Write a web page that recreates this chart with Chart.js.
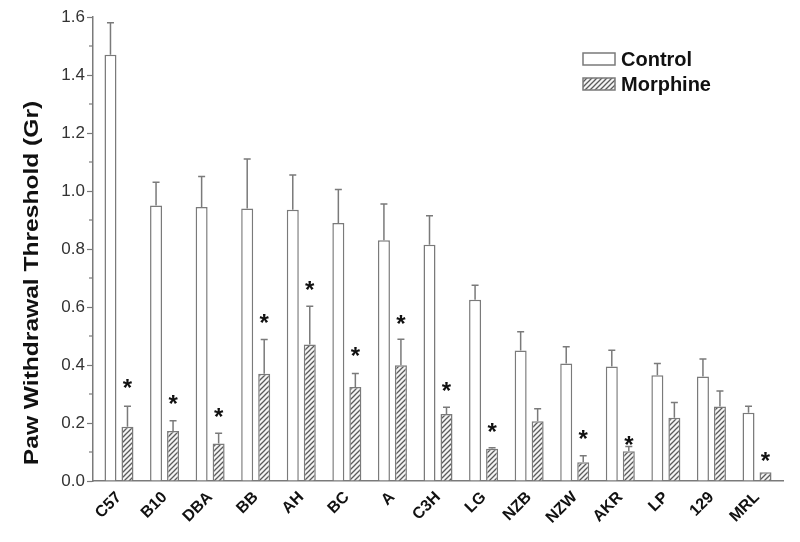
<!DOCTYPE html>
<html>
<head>
<meta charset="utf-8">
<script src="https://cdn.jsdelivr.net/npm/chart.js@4.4.0/dist/chart.umd.min.js"></script>
<style>
  html, body { margin: 0; padding: 0; background: #fff; }
  #wrap { width: 800px; height: 542px; }
</style>
</head>
<body>
<div id="wrap"><canvas id="myChart" width="800" height="542"></canvas></div>
<script>
const categories = ['C57', 'B10', 'DBA', 'BB', 'AH', 'BC', 'A', 'C3H', 'LG', 'NZB', 'NZW', 'AKR', 'LP', '129', 'MRL'];
const control = [1.47, 0.95, 0.945, 0.94, 0.935, 0.89, 0.83, 0.815, 0.625, 0.45, 0.405, 0.395, 0.365, 0.36, 0.235];
const controlErr = [0.11, 0.08, 0.105, 0.17, 0.12, 0.115, 0.125, 0.10, 0.05, 0.065, 0.058, 0.056, 0.04, 0.061, 0.023];
const morphine = [0.187, 0.172, 0.129, 0.37, 0.471, 0.324, 0.399, 0.231, 0.111, 0.206, 0.065, 0.103, 0.218, 0.257, 0.03];
const morphineErr = [0.071, 0.036, 0.036, 0.118, 0.132, 0.047, 0.09, 0.023, 0.004, 0.043, 0.022, 0.016, 0.053, 0.053, 0];
// asterisk positions (significance marks), in y units
const starLevel = [0.341, 0.286, 0.243, 0.567, 0.678, 0.451, 0.563, 0.332, 0.188, null, 0.166, 0.145, null, null, 0.09];
const yTicks = [0, 0.2, 0.4, 0.6, 0.8, 1.0, 1.2, 1.4, 1.6];

const lineGray = '#7a7a7a';
const fontFam = '"Liberation Sans", Arial, sans-serif';

// diagonal hatch for morphine bars
function hatch() {
    const c = document.createElement('canvas');
    c.width = 5; c.height = 5;
    const g = c.getContext('2d');
    g.fillStyle = '#f4f4f4';
    g.fillRect(0, 0, 5, 5);
    g.strokeStyle = '#5a5a5a';
    g.lineWidth = 1.3;
    g.beginPath();
    g.moveTo(-1, 6); g.lineTo(6, -1);
    g.moveTo(-1, 1); g.lineTo(1, -1);
    g.moveTo(4, 6); g.lineTo(6, 4);
    g.stroke();
    return g.createPattern(c, 'repeat');
}
const hatchFill = hatch();

const errs = [controlErr, morphineErr];

const extras = {
    id: 'extras',
    afterDatasetsDraw(chart) {
        const ctx = chart.ctx;
        const y = chart.scales.y;
        ctx.save();
        ctx.strokeStyle = lineGray;
        ctx.lineWidth = 1.5;
        chart.data.datasets.forEach((ds, d) => {
            chart.getDatasetMeta(d).data.forEach((bar, i) => {
                const e = errs[d][i];
                if (!e) return;
                const top = y.getPixelForValue(ds.data[i].y + e);
                ctx.beginPath();
                ctx.moveTo(bar.x, bar.y);
                ctx.lineTo(bar.x, top);
                ctx.moveTo(bar.x - 3.5, top);
                ctx.lineTo(bar.x + 3.5, top);
                ctx.stroke();
            });
        });
        // stars
        ctx.fillStyle = '#111';
        ctx.font = 'bold 24px ' + fontFam;
        ctx.textAlign = 'center';
        ctx.textBaseline = 'alphabetic';
        const morphMeta = chart.getDatasetMeta(1);
        starLevel.forEach((s, i) => {
            if (s === null) return;
            ctx.fillText('*', morphMeta.data[i].x, y.getPixelForValue(s) + 14);
        });
        // minor ticks
        ctx.strokeStyle = lineGray;
        ctx.lineWidth = 1.2;
        for (let v = 0.1; v < 1.6; v += 0.2) {
            const py = y.getPixelForValue(v);
            ctx.beginPath();
            ctx.moveTo(chart.chartArea.left, py);
            ctx.lineTo(chart.chartArea.left - 4, py);
            ctx.stroke();
        }
        ctx.restore();
    },
    afterDraw(chart) {
        const ctx = chart.ctx;
        ctx.save();
        // y title, a little stretched along its length like the source figure
        ctx.fillStyle = '#111';
        ctx.font = 'bold 21px ' + fontFam;
        ctx.translate(38, 283);
        ctx.rotate(-Math.PI / 2);
        ctx.scale(1.17, 1);
        ctx.textAlign = 'center';
        ctx.textBaseline = 'alphabetic';
        ctx.fillText('Paw Withdrawal Threshold (Gr)', 0, 0);
        ctx.restore();
        // legend
        ctx.save();
        ctx.lineWidth = 1.5;
        ctx.strokeStyle = lineGray;
        ctx.font = 'bold 20px ' + fontFam;
        ctx.textBaseline = 'middle';
        ctx.fillStyle = '#fff';
        ctx.fillRect(583, 53, 32, 12);
        ctx.strokeRect(583, 53, 32, 12);
        ctx.fillStyle = hatchFill;
        ctx.fillRect(583, 78, 32, 12);
        ctx.strokeRect(583, 78, 32, 12);
        ctx.fillStyle = '#111';
        ctx.fillText(chart.data.datasets[0].label, 621, 60);
        ctx.fillText(chart.data.datasets[1].label, 621, 85);
        ctx.restore();
    }
};

const ctx = document.getElementById('myChart').getContext('2d');
const myChart = new Chart(ctx, {
    type: 'bar',
    data: {
        datasets: [{
            label: 'Control',
            data: control.map((v, i) => ({ x: i, y: v })),
            backgroundColor: '#fff',
            borderColor: lineGray,
            borderWidth: 1.5
        }, {
            label: 'Morphine',
            data: morphine.map((v, i) => ({ x: i, y: v })),
            backgroundColor: hatchFill,
            borderColor: lineGray,
            borderWidth: 1.5
        }]
    },
    plugins: [extras],
    options: {
        responsive: false,
        animation: false,
        categoryPercentage: 0.746,
        barPercentage: 0.706,
        layout: { padding: { top: 17, right: 17, left: 0, bottom: 0 } },
        plugins: {
            legend: { display: false },
            tooltip: { enabled: false }
        },
        scales: {
            x: {
                type: 'linear',
                offset: false,
                min: -0.57,
                max: 14.57,
                afterBuildTicks: (scale) => {
                    scale.ticks = categories.map((c, i) => ({ value: i }));
                },
                afterFit: (scale) => { scale.height = 61; },
                grid: { display: false, drawTicks: false },
                border: { display: true, color: lineGray, width: 1.5 },
                ticks: {
                    autoSkip: false,
                    minRotation: 45,
                    maxRotation: 45,
                    padding: 7,
                    color: '#111',
                    font: { family: fontFam, size: 16, weight: 'bold' },
                    callback: (v) => categories[v]
                }
            },
            y: {
                min: 0,
                max: 1.6,
                afterBuildTicks: (scale) => {
                    scale.ticks = yTicks.map(v => ({ value: v }));
                },
                afterFit: (scale) => { scale.width = 93; },
                grid: { drawOnChartArea: false, tickLength: 6, color: lineGray, tickWidth: 1.2 },
                border: { display: true, color: lineGray, width: 1.5 },
                ticks: {
                    padding: 2,
                    color: '#333',
                    font: { family: fontFam, size: 17 },
                    callback: (v) => v.toFixed(1)
                }
            }
        }
    }
});
</script>
</body>
</html>
